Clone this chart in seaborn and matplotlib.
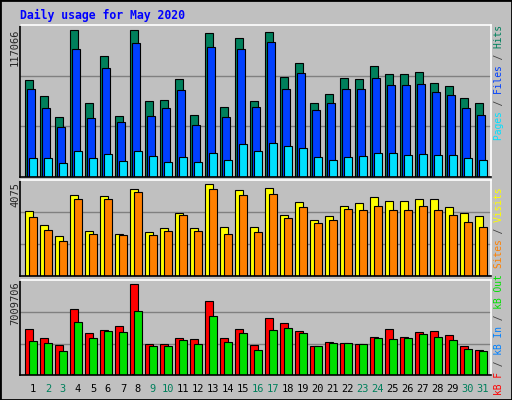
import numpy as np
import seaborn as sns
import matplotlib.pyplot as plt
from matplotlib.patches import Rectangle
from matplotlib.transforms import blended_transform_factory

days = list(range(1, 32))
weekend = [2, 3, 9, 10, 16, 17, 23, 24, 30, 31]

hits = [77400, 64700, 48000, 117066, 59100, 96500, 48800, 117066, 60700, 61500, 78200,
        49600, 114700, 55900, 110800, 60700, 115500, 79800, 90900, 59100, 66300, 79000,
        78200, 88500, 82200, 82200, 83700, 75000, 72600, 63100, 59100]
files = [70200, 55100, 40000, 102000, 47200, 86900, 44000, 106800, 48800, 55100, 69400,
         41600, 103600, 48000, 102000, 55900, 107600, 70200, 82900, 53500, 59100, 70200,
         70200, 79000, 73400, 73400, 74200, 67800, 65500, 55100, 49600]
pages = [15400, 15400, 11400, 20900, 15400, 18500, 13000, 20900, 17000, 12200, 16200,
         12200, 19300, 13800, 26500, 20900, 27300, 24900, 23300, 16200, 13800, 16200,
         17000, 19300, 19300, 17800, 18500, 17800, 17800, 15400, 13800]
visits = [2880, 2260, 1770, 3590, 1990, 3540, 1900, 3850, 1950, 2130, 2830, 2130, 4075,
          2170, 3810, 2170, 3900, 2700, 3280, 2480, 2660, 3140, 3230, 3500, 3320, 3320,
          3410, 3410, 3060, 2790, 2660]
sites = [2610, 2040, 1550, 3450, 1860, 3410, 1820, 3760, 1820, 1990, 2700, 1990, 3850,
         1900, 3590, 1950, 3630, 2570, 3060, 2350, 2480, 2970, 2920, 3140, 2920, 2920,
         3100, 2920, 2700, 2390, 2210]
kb_f = [3543000, 2850000, 2311000, 5084000, 3235000, 3466000, 3774000, 7009706, 2388000,
        2388000, 2850000, 2773000, 5700000, 2850000, 3543000, 2311000, 4391000, 4005000,
        3389000, 2234000, 2542000, 2465000, 2388000, 2927000, 3543000, 2927000, 3312000,
        3389000, 3081000, 2234000, 1926000]
kb_in = [20000, 20000, 20000, 60000, 20000, 20000, 20000, 70000, 20000, 20000, 20000,
         20000, 60000, 20000, 20000, 20000, 20000, 20000, 20000, 20000, 20000, 20000,
         20000, 20000, 20000, 20000, 20000, 20000, 20000, 20000, 20000]
kb_out = [2619000, 2465000, 1849000, 4082000, 2850000, 3389000, 3312000, 4930000, 2234000,
          2234000, 2696000, 2388000, 4545000, 2542000, 3235000, 1926000, 3466000, 3620000,
          3235000, 2234000, 2465000, 2465000, 2388000, 2850000, 2773000, 2850000, 3158000,
          2927000, 2696000, 2003000, 1849000]

sns.set_style("white")
plt.rcParams['font.family'] = ['DejaVu Sans Mono']
BG = "#c0c0c0"
GRID = "#808080"
MONO = 'DejaVu Sans Mono'

fig = plt.figure(figsize=(5.12, 4.0), dpi=100, facecolor=BG)
fig.patches.append(Rectangle((0, 0), 1, 1, transform=fig.transFigure, fill=False,
                             edgecolor="black", linewidth=2))
fig.text(20 / 512, 1 - 15 / 400, "Daily usage for May 2020", color="#0000ff",
         fontsize=8.3, fontweight="bold", family=MONO, va="center", ha="left")

x = np.array(days)
W = 0.49
X0 = 0.497
X1 = X0 + 471 / 15


def panel(rect, top):
    ax = fig.add_axes(rect, facecolor=BG)
    ax.set_xlim(X0, X1)
    ax.set_ylim(0, top)
    for g in (top / 3, 2 * top / 3):
        ax.axhline(g, color=GRID, linewidth=1, zorder=0)
    ax.set_xticks([])
    ax.set_yticks([])
    for s in ("left", "bottom"):
        ax.spines[s].set_color("black")
    for s in ("top", "right"):
        ax.spines[s].set_color("white")
    for s in ax.spines.values():
        s.set_linewidth(1.2)
    return ax


def side_label(y_center, parts):
    full = "".join(p for p, _ in parts)
    pos = 0
    for p, c in parts:
        s = " " * pos + p + " " * (len(full) - pos - len(p))
        fig.text(499 / 512, 1 - y_center / 400, s, color=c, rotation=90,
                 fontsize=6.9, family=MONO, ha="center", va="center")
        pos += len(p)


kw = dict(align="edge", edgecolor="black", linewidth=0.8)

ax1 = panel([20 / 512, 0.5575, 471 / 512, 0.38], 117066 * 152 / 147)
ax1.bar(x - 0.15, hits, W, color="#00805c", **kw)
ax1.bar(x - 0.02, files, W, color="#0040ff", **kw)
ax1.bar(x + 0.11, pages, W, color="#00e0ff", **kw)

ax2 = panel([20 / 512, 0.309, 471 / 512, 0.24], 4075 * 288 / 276)
ax2.bar(x - 0.15, visits, W, color="#ffff00", **kw)
ax2.bar(x + 0.11, sites, W, color="#ff8000", **kw)

ax3 = panel([20 / 512, 0.062, 471 / 512, 0.2375], 7009706 * 285 / 273)
ax3.bar(x - 0.15, kb_f, W, color="#ff0000", **kw)
ax3.bar(x - 0.02, kb_in, W, color="#0080ff", **kw)
ax3.bar(x + 0.11, kb_out, W, color="#00e000", **kw)

trans = blended_transform_factory(ax3.transData, fig.transFigure)
for d in days:
    ax3.text(d + 0.36, 1 - 389 / 400, str(d), transform=trans, ha="center", va="center",
             fontsize=7.5, family=MONO, color="#00805c" if d in weekend else "black")

fig.text(15 / 512, 1 - 28 / 400, "117066", rotation=90, fontsize=7.5, family=MONO,
         ha="center", va="top")
fig.text(15 / 512, 1 - 182 / 400, "4075", rotation=90, fontsize=7.5, family=MONO,
         ha="center", va="top")
fig.text(15 / 512, 1 - 281 / 400, "7009706", rotation=90, fontsize=7.5, family=MONO,
         ha="center", va="top")

side_label(82, [("Pages", "#00e0ff"), (" / ", "#404040"), ("Files", "#0040ff"),
                (" / ", "#404040"), ("Hits", "#00805c")])
side_label(228, [("Sites", "#ff8000"), (" / ", "#404040"), ("Visits", "#ffff00")])
side_label(335, [("kB F", "#ff0000"), (" / ", "#404040"), ("kB In", "#0080ff"),
                 (" / ", "#404040"), ("kB Out", "#00e000")])

fig.savefig("out.png", dpi=100, facecolor=BG)
